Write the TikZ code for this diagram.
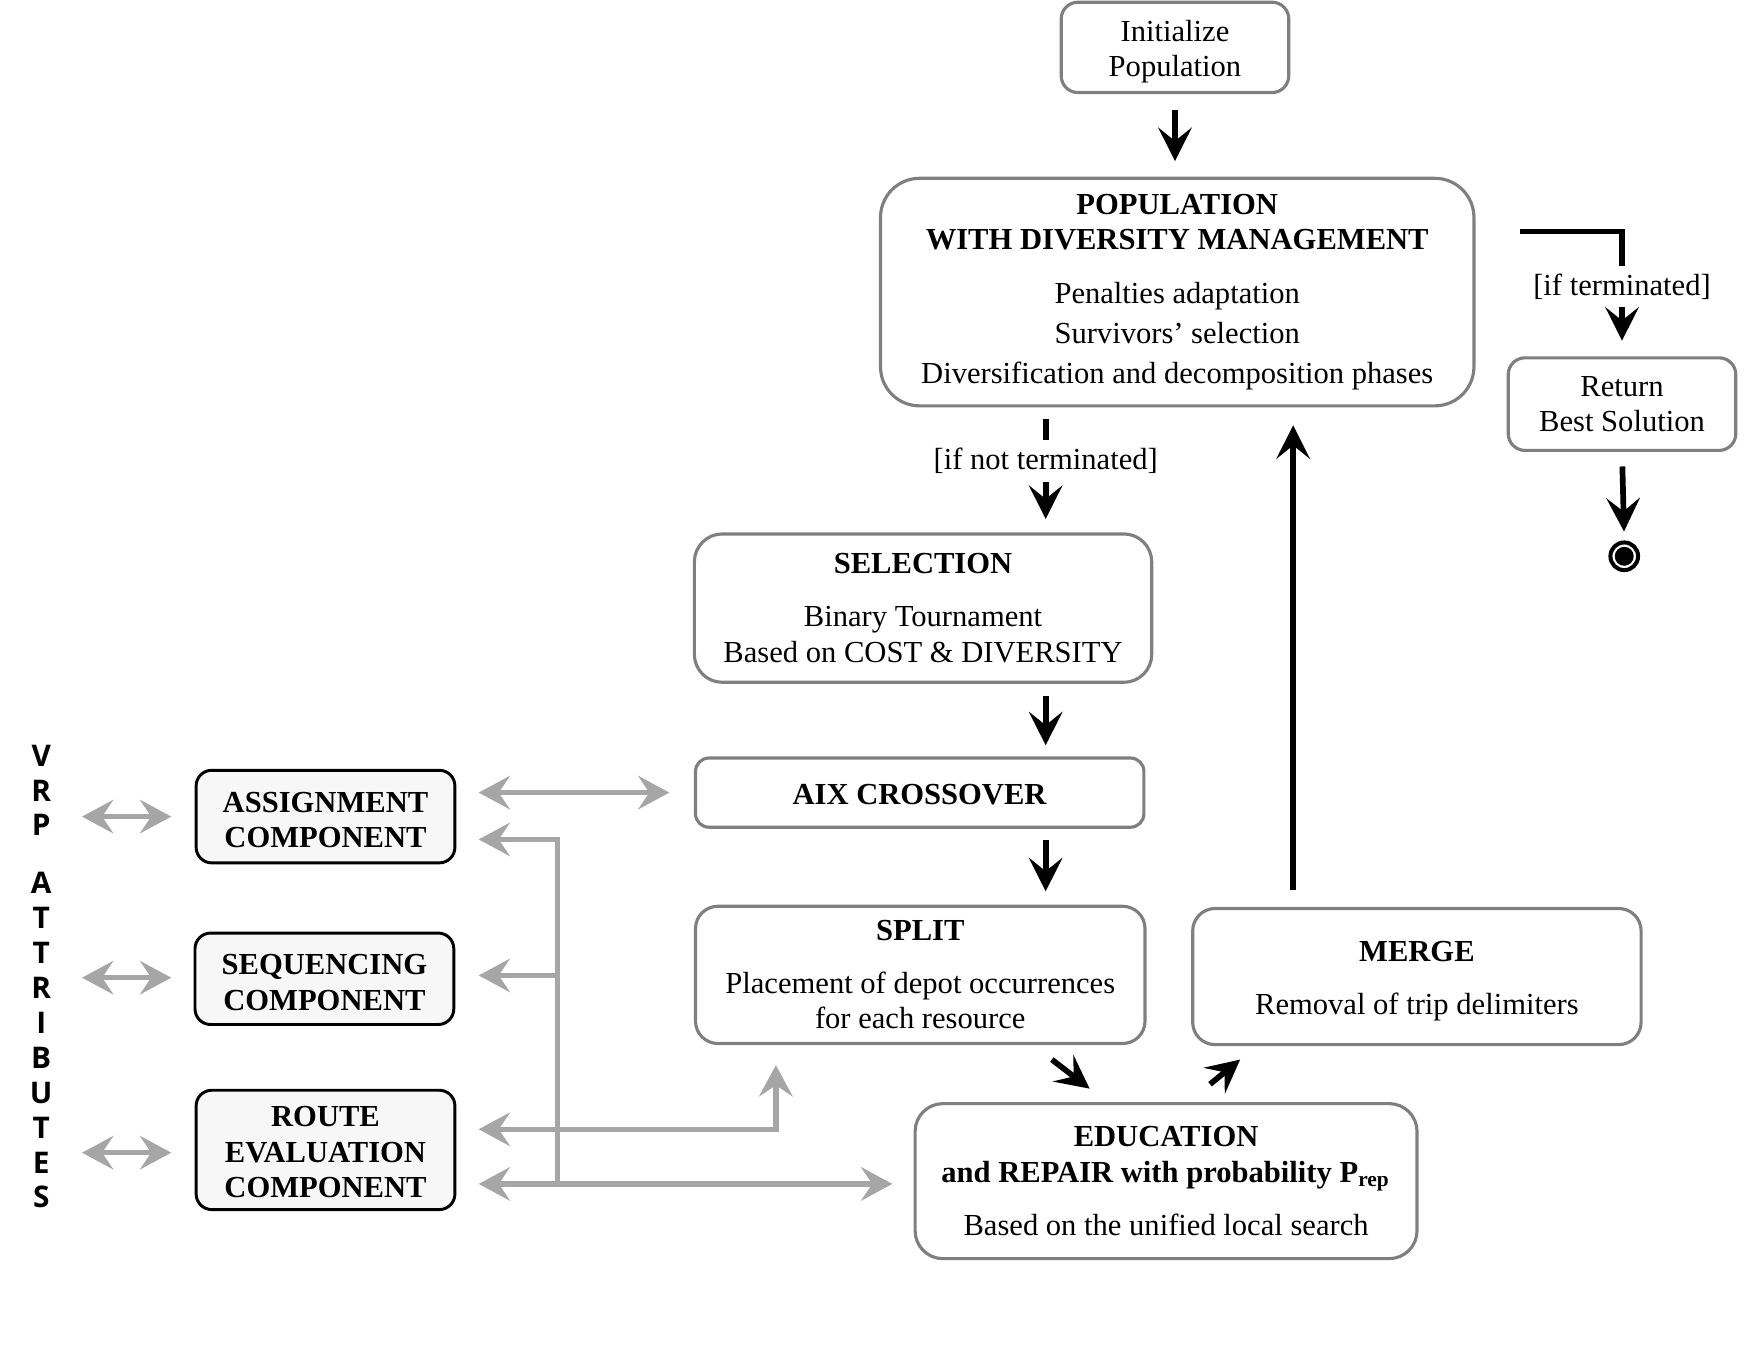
\documentclass[tikz,border=0pt]{standalone}
\usepackage{fontspec}
\setmainfont{Liberation Serif}
\newfontfamily\vrpfont{Open Sans}
\usetikzlibrary{arrows.meta,calc}
\definecolor{boxgray}{HTML}{7F7F7F}
\definecolor{arrgray}{HTML}{A6A6A6}
\definecolor{compfill}{HTML}{F7F7F7}
\newcommand\toppad[1]{\rule{0pt}{#1}}
\begin{document}
\begin{tikzpicture}[x=0.01cm, y=-0.01cm,
  txt/.style={font=\fontsize{7.8}{9.1}\selectfont},
  box/.style={draw=boxgray, line width=0.8pt, rounded corners=#1, align=center, inner sep=0pt, txt},
  box/.default=0.15cm,
  comp/.style={draw=black, line width=0.75pt, fill=compfill, rounded corners=0.14cm, align=center, inner sep=0pt, font=\fontsize{7.8}{9.1}\selectfont\bfseries},
  lbl/.style={fill=white, inner sep=2pt, txt},
  blk/.style={line width=1.45pt, -{Stealth[length=0.30cm,width=0.30cm,inset=0.12cm]}},
  gry/.style={draw=arrgray, line width=1.4pt, >={Stealth[length=0.28cm,width=0.30cm,inset=0.10cm]}},
]
\useasboundingbox (0,0) rectangle (1568,1224);

% main flow boxes
\node[box=0.15cm, minimum width=2.04cm, minimum height=0.81cm] (init) at (1054,42.5) {\toppad{7.6pt}Initialize\\Population};
\node[box=0.35cm, minimum width=5.32cm, minimum height=2.04cm] (pop) at (1056,262)
  {\textbf{POPULATION}\\\textbf{WITH DIVERSITY MANAGEMENT}\\[4.6pt]Penalties adaptation\\[1.1pt]Survivors’ selection\\[1.1pt]Diversification and decomposition phases};
\node[box=0.15cm, minimum width=2.04cm, minimum height=0.83cm] (ret) at (1455,362.5) {Return\\Best Solution};
\node[box=0.25cm, minimum width=4.10cm, minimum height=1.33cm] (sel) at (828,545.5)
  {\textbf{SELECTION}\\[4.3pt]Binary Tournament\\Based on COST \& DIVERSITY};
\node[box=0.12cm, minimum width=4.02cm, minimum height=0.62cm] (aix) at (825,711) {\toppad{6.2pt}\textbf{AIX CROSSOVER}};
\node[box=0.2cm, minimum width=4.03cm, minimum height=1.23cm] (split) at (825.5,874.5)
  {\textbf{SPLIT}\\[4.3pt]Placement of depot occurrences\\for each resource};
\node[box=0.2cm, minimum width=4.02cm, minimum height=1.22cm] (merge) at (1271,876)
  {\toppad{7.5pt}\textbf{MERGE}\\[4.3pt]Removal of trip delimiters};
\node[box=0.25cm, minimum width=4.50cm, minimum height=1.39cm] (edu) at (1046,1059.5)
  {\textbf{EDUCATION}\\\textbf{and REPAIR with probability P\textsubscript{rep}}\\[4.3pt]Based on the unified local search};

% components
\node[comp, minimum width=2.32cm, minimum height=0.83cm] (assign) at (292,732.5) {\toppad{6.9pt}ASSIGNMENT\\COMPONENT};
\node[comp, minimum width=2.32cm, minimum height=0.82cm] (seq) at (291,878) {\toppad{7.1pt}SEQUENCING\\COMPONENT};
\node[comp, minimum width=2.32cm, minimum height=1.07cm] (route) at (292,1031.5) {\toppad{6.3pt}ROUTE\\EVALUATION\\COMPONENT};

% VRP attributes
\node[align=center, inner sep=0pt, font=\vrpfont\bfseries\fontsize{7.6}{8.9}\selectfont] (vrp) at (37,876)
  {V\\R\\P\\[5.9pt]A\\T\\T\\R\\I\\B\\U\\T\\E\\S};

% final node
\node[circle, draw, line width=1.02pt, minimum size=0.248cm, inner sep=0pt] (fin) at (1457,499) {};
\fill (fin.center) circle[radius=0.085cm];

% black connectors
\coordinate (xa) at (938,0);
\coordinate (xm) at (1160,0);
\draw[blk, shorten <=0.14cm, shorten >=0.14cm] (init.south) -- (init.south |- pop.north);
\draw[blk, shorten <=0.10cm, shorten >=0.12cm] (pop.south -| xa) -- node[lbl, pos=0.43]{[if not terminated]} (sel.north -| xa);
\draw[blk, shorten >=0.14cm] ($(pop.north east)+(40,49)$) -| node[lbl, pos=0.72]{[if terminated]} (ret.north);
\draw[blk, shorten <=0.13cm, shorten >=0.08cm] (ret.south) -- (fin.north);
\draw[blk, shorten <=0.11cm, shorten >=0.10cm] (sel.south -| xa) -- (aix.north -| xa);
\draw[blk, shorten <=0.10cm, shorten >=0.12cm] (aix.south -| xa) -- (split.north -| xa);
\draw[blk] ($(split.south east)+(-85,13)$) -- ($(edu.north west)+(158,-12)$);
\draw[blk] ($(edu.north west)+(266,-16)$) -- ($(merge.south west)+(44,12)$);
\draw[blk, shorten <=0.15cm, shorten >=0.16cm] (merge.north -| xm) -- (pop.south -| xm);

% gray connectors
\coordinate (t1) at (500,753);
\coordinate (t2) at (500,1062);
\coordinate (sp) at (696,1013);
\draw[gry, <->, shorten <=0.20cm, shorten >=0.22cm] (assign.east |- aix.west) -- (aix.west);
\draw[gry, <-, shorten <=0.20cm] (assign.east |- t1) -- (t1) -- (t2);
\draw[gry, ->, shorten >=0.21cm] ($(seq.east -| t1)+(0,-3)$) -- ($(seq.east)+(0,-3)$);
\draw[gry, <->, shorten <=0.20cm, shorten >=0.18cm] (route.east |- sp) -- (sp) -- (sp |- split.south);
\draw[gry, <->, shorten <=0.20cm, shorten >=0.19cm] (route.east |- t2) -- (edu.west |- t2);
\draw[gry, <->, shorten >=0.21cm] ($(assign.west)+(-101,0)$) -- (assign.west);
\draw[gry, <->, shorten >=0.20cm] ($(seq.west)+(-100,-1)$) -- ($(seq.west)+(0,-1)$);
\draw[gry, <->, shorten >=0.21cm] ($(route.west)+(-101,2.5)$) -- ($(route.west)+(0,2.5)$);
\end{tikzpicture}
\end{document}
